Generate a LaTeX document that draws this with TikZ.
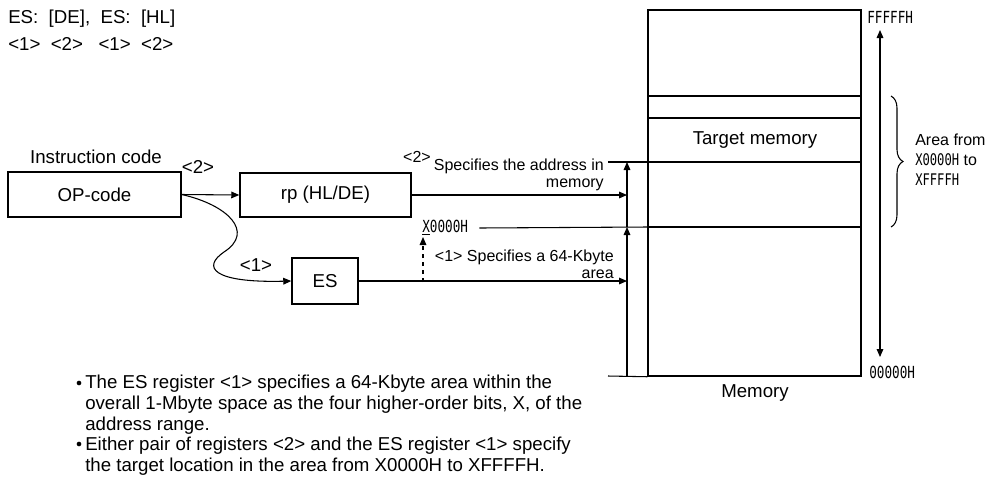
\documentclass[tikz,border=0pt]{standalone}
\usepackage{fontspec}
\setmainfont{Liberation Sans}
\newfontfamily\hexfont{DejaVu Sans Mono}[FakeStretch=0.76]
\usetikzlibrary{arrows.meta,decorations.pathreplacing}

\tikzset{
  regbox/.style={draw,line width=1.1pt,inner sep=0pt,font=\fontsize{14}{16}\selectfont},
  lbl/.style={inner sep=0pt,font=\fontsize{14}{16}\selectfont},
  body/.style={inner sep=0pt,align=left,font=\fontsize{14}{15.75}\selectfont},
  note/.style={inner sep=0pt,align=right,font=\fontsize{12}{12.75}\selectfont},
  hex/.style={inner sep=0pt,font=\fontsize{12.5}{13}\hexfont},
  dot/.style={circle,fill,inner sep=0pt,minimum size=3.5pt},
  link/.style={line width=0.8pt},
  arr/.style={link,-{Triangle[length=6pt,width=5pt]}}
}

\begin{document}
\begin{tikzpicture}[x=0.75pt,y=-0.75pt]
\useasboundingbox (0,0) rectangle (989,480);

% instruction format
\node[lbl,anchor=west] (fmt) at (8,19) {ES:\ \ [DE],\ \ ES:\ \ [HL]};
\node[lbl,anchor=west] (fmtn) at (8,44) {<1>\ \ <2>\ \ \ <1>\ \ <2>};

% registers
\node[regbox,minimum width=129.75pt,minimum height=33.75pt] (op) at (94.5,194.5) {OP-code};
\node[lbl] (opt) at (96,157) {Instruction code};
\node[regbox,minimum width=128.25pt,minimum height=33pt] (rp) at (325.5,195) {rp (HL/DE)};
\node[regbox,minimum width=49.5pt,minimum height=34.5pt] (es) at (325,281) {ES};
\node[lbl] (op2) at (198,167) {<2>};
\node[lbl] (op1) at (256,265) {<1>};

\draw[arr] (op.east) -- (rp.west);
\draw[arr] (op.east) .. controls (228,205) and (255,232) .. (224,252)
  .. controls (202,267) and (212,283) .. (es.west);

% memory map
\node[regbox,minimum width=159.75pt,minimum height=274.5pt] (mem) at (754.5,193) {};
\foreach \yy in {96,118,162,227}
  \draw[line width=1.1pt] (648,\yy) -- (861,\yy);
\node[lbl] (tgt) at (755,140) {Target memory};
\node[lbl] (memt) at (755,393) {Memory};

% address pointers
\coordinate (a2) at (627,162);
\coordinate (a1) at (627,227);
\coordinate (a0) at (627,376);
\coordinate (m2) at (608,162);
\coordinate (m0) at (608,376);
\node[hex,anchor=west] (xlo) at (422,228) {\underline{X}0000H};
\draw[link] (m2) -- (mem.west |- a2);
\draw[link] (xlo.east) ++(11,0) -- (mem.west |- a1);
\draw[link] (m0) -- (mem.south west);
\draw[arr] (a0) -- (a1);
\draw[arr] (a1) -- (a2);
\draw[arr] (rp.east) -- (rp.east -| a2);
\draw[arr] (es.east) -- (es.east -| a2);

\coordinate (d0) at (423,282);
\coordinate (d1) at (423,237);
\draw[arr,dashed] (d0) -- (d1);

\node[note] (n2t) at (417,157) {<2>};
\node[note,anchor=east] (n2) at (604,175) {Specifies the address in\\memory};
\node[note,anchor=east] (n1) at (614,264) {<1> Specifies a 64-Kbyte\\area};

% address range
\coordinate (top) at (880,30);
\coordinate (bot) at (880,357);
\draw[link,{Triangle[length=6pt,width=5pt]}-{Triangle[length=6pt,width=5pt]}] (top) -- (bot);
\node[hex,anchor=west] (hi) at (867,17) {FFFFFH};
\node[hex,anchor=west] (lo) at (869,372) {00000H};
\draw[link,decorate,decoration={brace,amplitude=9pt}] (891,96) -- (891,227);
\node[note,anchor=west,align=left,font=\fontsize{12}{15}\selectfont] (area) at (915,160)
  {Area from\\{\hexfont X0000H} to\\{\hexfont XFFFFH}};

% notes
\node[dot] (b1) at (79,383) {};
\node[body,anchor=north west] (t1) at (85,375)
  {The ES register <1> specifies a 64-Kbyte area within the\\
   overall 1-Mbyte space as the four higher-order bits, X, of the\\
   address range.};
\node[dot] (b2) at (79,444) {};
\node[body,anchor=north west] (t2) at (85,437)
  {Either pair of registers <2> and the ES register <1> specify\\
   the target location in the area from X0000H to XFFFFH.};
\end{tikzpicture}
\end{document}
